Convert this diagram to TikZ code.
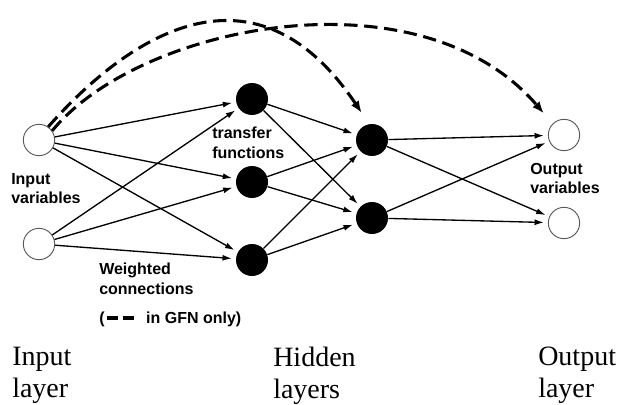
\documentclass[tikz,border=0pt]{standalone}
\usepackage{fontspec}
\setmainfont{Liberation Serif}
\setsansfont{Liberation Sans}
\usetikzlibrary{arrows.meta}
\begin{document}
\begin{tikzpicture}[x=0.75pt, y=0.75pt,
	unit/.style={circle, draw=gray!70!black, fill=white, line width=0.7pt, minimum size=23.5pt, inner sep=0pt},
	hidden/.style={circle, fill=black, minimum size=24pt, inner sep=0pt},
	wire/.style={-{Latex[length=7pt,width=4.5pt]}, line width=1pt, shorten >=3pt},
	gfn/.style={-{Latex[length=9pt,width=7pt]}, line width=2.3pt, dash pattern=on 10pt off 5pt, shorten >=10pt},
	lbl/.style={font=\sffamily\bfseries\fontsize{12}{14.5}\selectfont, align=left, anchor=north west, inner sep=0pt},
	layer/.style={font=\fontsize{21}{24}\selectfont, align=left, anchor=north west, inner sep=0pt}]
		\useasboundingbox (0,0) rectangle (620,404);
		
		%neurons
		\node[unit] (i1) at (39,264){};
		\node[unit] (i2) at (39,160){};
		\node[hidden] (h1) at (252,305){};
		\node[hidden] (h2) at (252,222){};
		\node[hidden] (h3) at (252,144){};
		\node[hidden] (h4) at (372,264){};
		\node[hidden] (h5) at (372,186){};
		\node[unit] (o1) at (564,269){};
		\node[unit] (o2) at (564,181){};
		
		%weighted connections
		\foreach \a in {i1, i2}{
			\foreach \b in {h1, h2, h3}{
				\draw[wire] (\a)--(\b);
			}
		}
		\foreach \a in {h1, h2, h3}{
			\foreach \b in {h4, h5}{
				\draw[wire] (\a)--(\b);
			}
		}
		\foreach \a in {h4, h5}{
			\foreach \b in {o1, o2}{
				\draw[wire] (\a)--(\b);
			}
		}
		
		%GFN only
		\draw[gfn] (i1.55) .. controls (130,370) and (255,450) .. (h4.100);
		\draw[gfn] (i1.35) .. controls (140,380) and (420,435) .. (o1.135);
		
		%labels
		\node[lbl] (invar) at (11,231){Input\\variables};
		\node[lbl] (tf) at (212,277){transfer\\functions};
		\node[lbl] (outvar) at (530,241){Output\\variables};
		\node[lbl] (wc) at (99,141){Weighted\\connections};
		\node[lbl] (note) at (99,92){(\hspace{.15em}\rule[.27em]{.7em}{.2em}\hspace{.3em}\rule[.27em]{.7em}{.2em}\hspace{.75em}in GFN only)};
		
		\node[layer] (inl) at (12,57){Input\\layer};
		\node[layer] (hidl) at (273,57){Hidden\\layers};
		\node[layer] (outl) at (538,57){Output\\layer};
\end{tikzpicture}
\end{document}
